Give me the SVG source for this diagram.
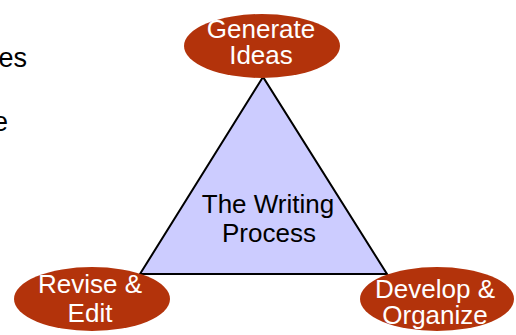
<svg xmlns="http://www.w3.org/2000/svg" width="516" height="335" viewBox="0 0 516 335">
<style>
.node ellipse{fill:#B3330B;}
.node text{fill:#FFFFFF;font-family:"Liberation Sans",Arial,sans-serif;font-size:26px;text-anchor:middle;}
.tri polygon{fill:#CCCCFF;stroke:#000000;stroke-width:2;stroke-linejoin:miter;}
.tri text{fill:#000000;font-family:"Liberation Sans",Arial,sans-serif;font-size:26px;text-anchor:middle;}
.side{fill:#000000;font-family:"Liberation Sans",Arial,sans-serif;font-size:27px;text-anchor:end;}
</style>
<rect width="516" height="335" fill="#FFFFFF"/>
<text class="side" x="27" y="67">es</text>
<text class="side" x="8" y="131">e</text>
<g id="connectors"></g>
<g id="process" class="tri">
<polygon points="263,77 140,274 387,274"/>
<text x="268" y="213">The Writing</text>
<text x="269" y="242">Process</text>
</g>
<g id="generate" class="node">
<ellipse cx="262" cy="46" rx="78" ry="32"/>
<text x="261" y="38">Generate</text>
<text x="261" y="64">Ideas</text>
</g>
<g id="revise" class="node">
<ellipse cx="92" cy="299" rx="78" ry="32"/>
<text x="90" y="293">Revise &amp;</text>
<text x="90" y="322">Edit</text>
</g>
<g id="develop" class="node">
<ellipse cx="437" cy="299" rx="77" ry="32"/>
<text x="435" y="298">Develop &amp;</text>
<text x="435" y="324">Organize</text>
</g>
</svg>
